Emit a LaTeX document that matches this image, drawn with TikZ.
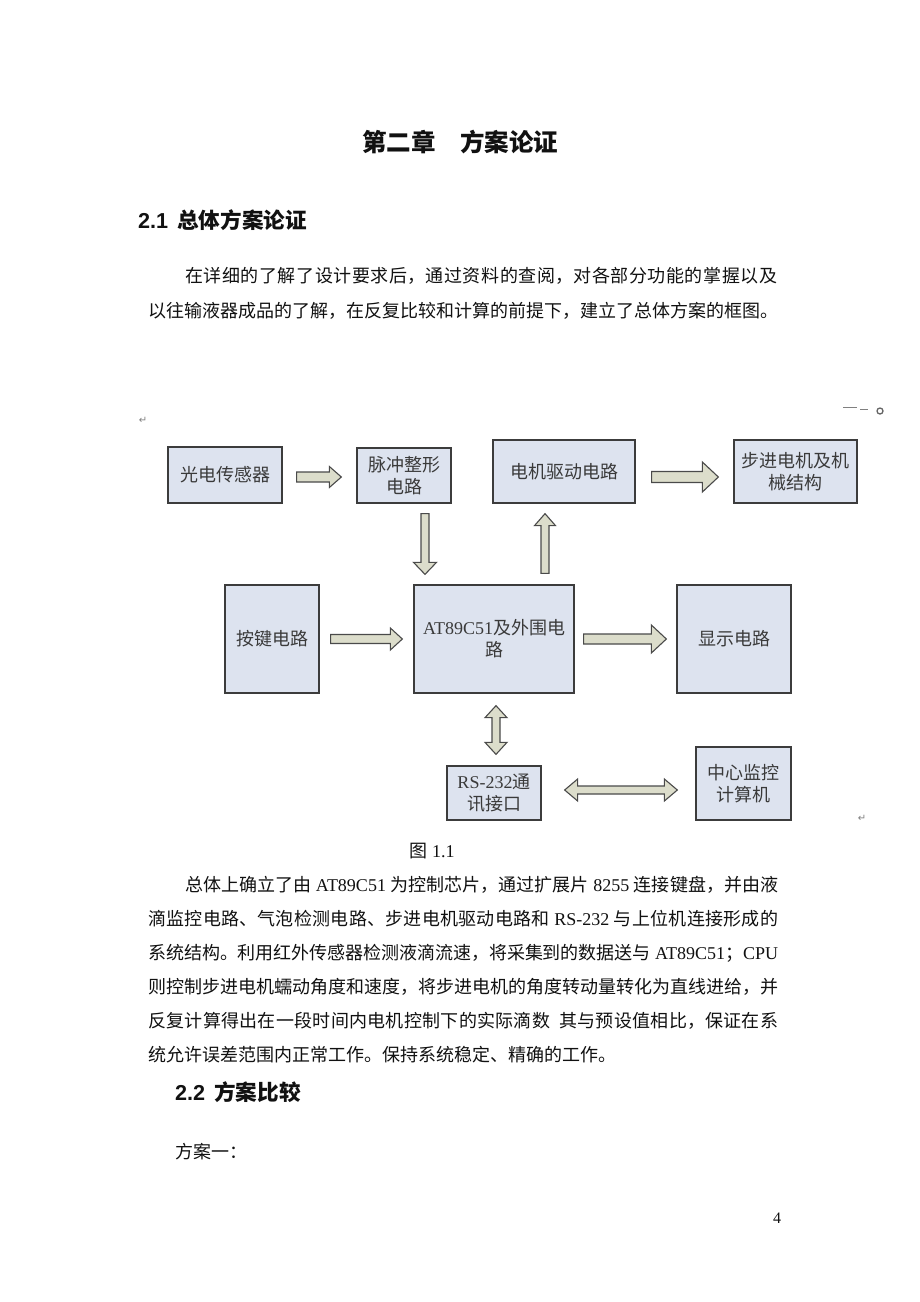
\documentclass[tikz,border=0pt]{standalone}
\usepackage{fontspec}
\setmainfont{Liberation Serif}
\newfontfamily\cjk{Noto Sans CJK SC}
\newfontfamily\tm{Liberation Serif}
\newfontfamily\ar{Liberation Sans}
\newfontfamily\dv{DejaVu Sans}
\XeTeXlinebreaklocale "zh"
\XeTeXlinebreakskip=0pt plus 3pt minus 1pt
\usetikzlibrary{calc}
\definecolor{boxfill}{HTML}{DDE3EF}
\definecolor{boxline}{HTML}{3C3C3C}
\definecolor{boxtext}{HTML}{3A3A3A}
\definecolor{arrfill}{HTML}{DCDDCB}
\definecolor{arrline}{HTML}{4A4A4A}
\definecolor{bodytext}{HTML}{111111}
\tikzset{
  blk/.style={draw=boxline, line width=1.3pt, fill=boxfill, text=boxtext,
    align=center, inner sep=2pt, font=\cjk\fontsize{18}{22}\selectfont},
  fat/.style={fill=arrfill, draw=arrline, line width=1.1pt, line join=miter},
  txt/.style={inner sep=0pt, anchor=west, text=bodytext, font=\cjk\fontsize{18}{22}\selectfont},
  retmark/.style={inner sep=0pt, text=gray, font=\dv\fontsize{10}{10}\selectfont},
}
% a justified single line of given width
\newcommand\jline[2]{\parbox{#1}{\parfillskip=0pt\relax\noindent #2}}
\newcommand\gapx{\hspace{4.5pt}}
% single block arrow: start, end, half shaft, half head, head length
\newcommand\fatarrow[5]{%
  \draw[fat] ($(#1)!#3!90:(#2)$) -- ($(#2)!#5!(#1)!#3!-90:(#1)$)
    -- ($(#2)!#5!(#1)!#4!-90:(#1)$) -- (#2)
    -- ($(#2)!#5!(#1)!#4!90:(#1)$) -- ($(#2)!#5!(#1)!#3!90:(#1)$)
    -- ($(#1)!#3!-90:(#2)$) -- cycle;}
% double block arrow
\newcommand\fatdarrow[5]{%
  \draw[fat] (#1) -- ($(#1)!#5!(#2)!#4!90:(#2)$) -- ($(#1)!#5!(#2)!#3!90:(#2)$)
    -- ($(#2)!#5!(#1)!#3!-90:(#1)$) -- ($(#2)!#5!(#1)!#4!-90:(#1)$) -- (#2)
    -- ($(#2)!#5!(#1)!#4!90:(#1)$) -- ($(#2)!#5!(#1)!#3!90:(#1)$)
    -- ($(#1)!#5!(#2)!#3!-90:(#2)$) -- ($(#1)!#5!(#2)!#4!-90:(#2)$) -- cycle;}
\begin{document}
\begin{tikzpicture}[x=1pt,y=-1pt]
\useasboundingbox (0,0) rectangle (920,1302);
\fill[white] (0,0) rectangle (920,1302);

% ---- headings and text above ----
\node[inner sep=0pt, text=bodytext, font=\cjk\bfseries\fontsize{24.5}{28}\selectfont] (title) at (460,142) {第二章\hspace{24.5pt}方案论证};
\node[txt, font=\fontsize{21.6}{26}\selectfont] (h21) at (138,220) {{\ar\bfseries 2.1}\hspace{9pt}{\cjk\bfseries 总体方案论证}};
\node[txt] (p1a) at (185,276) {\jline{592pt}{在详细的了解了设计要求后，通过资料的查阅，对各部分功能的掌握以及}};
\node[txt] (p1b) at (148,311) {\jline{630pt}{以往输液器成品的了解，在反复比较和计算的前提下，建立了总体方案的框图。}};

% ---- diagram boxes ----
\node[blk, minimum width=114pt, minimum height=56pt] (gd) at (225,475) {光电传感器};
\node[blk, minimum width=94pt, minimum height=55pt] (mc) at (404,475.5) {脉冲整形\\电路};
\node[blk, minimum width=142pt, minimum height=63pt] (dj) at (564,471.5) {电机驱动电路};
\node[blk, minimum width=123pt, minimum height=63pt] (bj) at (795.5,471.5) {步进电机及机\\械结构};
\node[blk, minimum width=94pt, minimum height=108pt] (aj) at (272,639) {按键电路};
\node[blk, minimum width=160pt, minimum height=108pt] (mcu) at (494,639) {{\tm AT89C51}及外围电\\路};
\node[blk, minimum width=114pt, minimum height=108pt] (xs) at (734,639) {显示电路};
\node[blk, minimum width=94pt, minimum height=54pt] (rs) at (494,793) {{\tm RS-232}通\\讯接口};
\node[blk, minimum width=95pt, minimum height=73pt] (zx) at (743.5,783.5) {中心监控\\计算机};

% ---- connector end points ----
\coordinate (a1s) at ($(gd.east)+(14,2)$);
\coordinate (a1e) at ($(mc.west)+(-15,1.5)$);
\coordinate (a2s) at ($(mc.south)+(21,10)$);
\coordinate (a2e) at ($(mcu.north)+(-69,-10)$);
\coordinate (a3s) at ($(mcu.north)+(51,-11)$);
\coordinate (a3e) at ($(dj.south)+(-19,10)$);
\coordinate (a4s) at ($(dj.east)+(16,5.5)$);
\coordinate (a4e) at ($(bj.west)+(-15,5.5)$);
\coordinate (a5s) at ($(aj.east)+(11,0)$);
\coordinate (a5e) at ($(mcu.west)+(-11,0)$);
\coordinate (a6s) at ($(mcu.east)+(9,0)$);
\coordinate (a6e) at ($(xs.west)+(-10,0)$);
\coordinate (a7s) at ($(mcu.south)+(2,12)$);
\coordinate (a7e) at ($(rs.north)+(2,-11)$);
\coordinate (a8s) at ($(rs.east)+(23,-3)$);
\coordinate (a8e) at ($(zx.west)+(-18,6.5)$);

% ---- block arrows ----
\fatarrow{a1s}{a1e}{5pt}{10.5pt}{12pt}
\fatarrow{a2s}{a2e}{4pt}{11.5pt}{12pt}
\fatarrow{a3s}{a3e}{4pt}{10.5pt}{12pt}
\fatarrow{a4s}{a4e}{5.5pt}{15pt}{16pt}
\fatarrow{a5s}{a5e}{4.5pt}{11pt}{12pt}
\fatarrow{a6s}{a6e}{5pt}{14pt}{15pt}
\fatdarrow{a7s}{a7e}{4pt}{11pt}{12pt}
\fatdarrow{a8s}{a8e}{4pt}{11pt}{13pt}

% ---- small marks ----
\node[retmark] (rm1) at (143,420) {↵};
\node[retmark] (rm2) at (862,818) {↵};
\draw[gray, line width=1pt] (843,407) -- (857,407) (860,409) -- (868,409);
\draw[gray!80!black, line width=1.3pt] (880,411) circle (3);

% ---- caption and text below ----
\node[inner sep=0pt, text=bodytext, font=\fontsize{18}{22}\selectfont] (cap) at (432,851) {{\cjk 图} {\tm 1.1}};
\node[txt] (p2a) at (185,885) {\jline{593pt}{总体上确立了由\gapx{\tm AT89C51}\gapx 为控制芯片，通过扩展片\gapx{\tm 8255}\gapx 连接键盘，并由液}};
\node[txt] (p2b) at (148,919) {\jline{630pt}{滴监控电路、气泡检测电路、步进电机驱动电路和\gapx{\tm RS-232}\gapx 与上位机连接形成的}};
\node[txt] (p2c) at (148,953) {\jline{630pt}{系统结构。利用红外传感器检测液滴流速，将采集到的数据送与\gapx{\tm AT89C51}；{\tm CPU}}};
\node[txt] (p2d) at (148,987) {\jline{630pt}{则控制步进电机蠕动角度和速度，将步进电机的角度转动量转化为直线进给，并}};
\node[txt] (p2e) at (148,1021) {\jline{630pt}{反复计算得出在一段时间内电机控制下的实际滴数\hspace{9pt}其与预设值相比，保证在系}};
\node[txt] (p2f) at (148,1055) {统允许误差范围内正常工作。保持系统稳定、精确的工作。};

\node[txt, font=\fontsize{21.6}{26}\selectfont] (h22) at (175,1092) {{\ar\bfseries 2.2}\hspace{9pt}{\cjk\bfseries 方案比较}};
\node[txt] (fa1) at (175,1152) {方案一：};
\node[inner sep=0pt, text=bodytext, font=\tm\fontsize{16}{18}\selectfont] (pg) at (777,1218) {4};
\end{tikzpicture}
\end{document}
